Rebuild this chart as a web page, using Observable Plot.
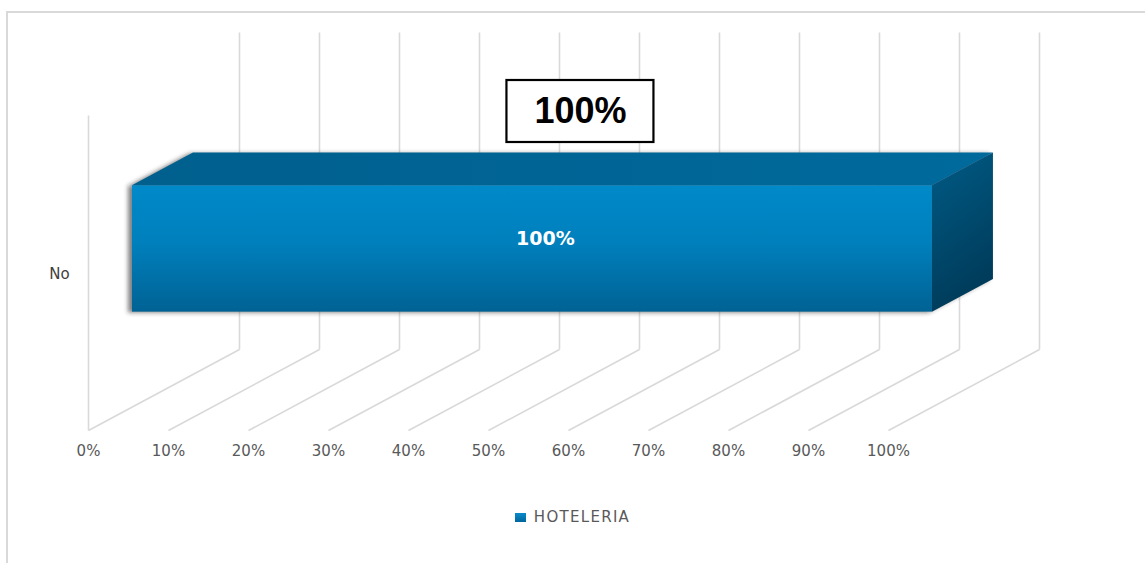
<!DOCTYPE html>
<html>
<head>
<meta charset="utf-8">
<script src="https://cdn.jsdelivr.net/npm/d3@7"></script>
<script src="https://cdn.jsdelivr.net/npm/@observablehq/plot@0.6"></script>
<style>
  html, body { margin: 0; padding: 0; background: #fff; }
  #page { position: relative; width: 1145px; height: 563px; overflow: hidden; }
  #chart { position: absolute; left: 0; top: 0; }
  #frame { position: absolute; left: 6px; top: 11px; width: 1200px; height: 600px;
           border-left: 2px solid #d9d9d9; border-top: 2px solid #d9d9d9; pointer-events: none; }
  #legend { position: absolute; left: 0; top: 508px; width: 1145px; display: flex;
            justify-content: center; align-items: center; font-family: "DejaVu Sans", sans-serif;
            font-size: 15px; letter-spacing: 1.3px; color: #595959; }
  #legend .sw { width: 11px; height: 9px; background: linear-gradient(#0a8bcc, #00669c); margin-right: 8px; }
</style>
</head>
<body>
<div id="page">
  <div id="chart"></div>
  <div id="legend"></div>
  <div id="frame"></div>
</div>
<script>
// ---- data ----
const categories = ["No"];
const seriesNames = ["HOTELERIA"];
const values = [1.0];
const xTicks = [0, 0.1, 0.2, 0.3, 0.4, 0.5, 0.6, 0.7, 0.8, 0.9, 1.0];
const tickLabels = ["0%", "10%", "20%", "30%", "40%", "50%", "60%", "70%", "80%", "90%", "100%"];
const barLabels = ["100%"];
const calloutLabels = ["100%"];

// ---- 3D projection layout (styles) ----
const DX = 0.18875;   // depth shift in x units
const DY = 81;        // depth shift in y units
const WALL = 316;     // wall height
const D0 = 0.291, D1 = 0.695;            // bar front/back depth
const H0 = WALL * 0.3, H1 = WALL * 0.7;  // bar bottom/top on the band

const rows = categories.map((c, i) => ({category: c, series: seriesNames[0], value: values[i], label: barLabels[i], callout: calloutLabels[i]}));

const topPts = rows.flatMap(r => [
  {y: H1 + D0 * DY, x1: D0 * DX, x2: r.value + D0 * DX},
  {y: H1 + D1 * DY, x1: D1 * DX, x2: r.value + D1 * DX}
]);
const rightPts = rows.flatMap(r => [
  {x: r.value + D0 * DX, y1: H0 + D0 * DY, y2: H1 + D0 * DY},
  {x: r.value + D1 * DX, y1: H0 + D1 * DY, y2: H1 + D1 * DY}
]);

const grid = {stroke: "#d9d9d9", strokeWidth: 1.6};

function bar(fills, extra) {
  return [
    Plot.rect(rows, {x1: () => D0 * DX, x2: d => d.value + D0 * DX, y1: () => H0 + D0 * DY, y2: () => H1 + D0 * DY, fill: fills[0], ...extra}),
    Plot.areaX(topPts, {y: "y", x1: "x1", x2: "x2", fill: fills[1], ...extra}),
    Plot.areaY(rightPts, {x: "x", y1: "y1", y2: "y2", fill: fills[2], ...extra})
  ];
}

const chart = Plot.plot({
  width: 1145,
  height: 480,
  marginLeft: 88,
  marginRight: 257,
  marginTop: 0,
  marginBottom: 50,
  style: {background: "transparent", color: "#595959", fontFamily: "DejaVu Sans, sans-serif", fontSize: "15px"},
  x: {domain: [0, 1], ticks: xTicks, tickFormat: d => tickLabels[xTicks.indexOf(d)], tickSize: 0, tickPadding: 15, label: null},
  y: {domain: [0, 430], axis: null},
  marks: [
    // floor diagonals
    Plot.link(xTicks, {x1: d => d, x2: d => d + DX, y1: () => 0, y2: () => DY, ...grid}),
    // back wall verticals
    Plot.link(xTicks, {x1: d => d + DX, x2: d => d + DX, y1: () => DY, y2: () => DY + WALL + 1, ...grid}),
    // side wall front edge
    Plot.link([xTicks[0]], {x1: d => d, x2: d => d, y1: () => 0, y2: () => WALL - 1, ...grid}),
    // shadow
    ...bar(["#333", "#333", "#333"], {fillOpacity: 0.6, dx: -4, dy: 1, title: () => "shadow"}),
    // bar faces
    ...bar(["url(#gFront)", "url(#gTop)", "url(#gRight)"], {}),
    // category label
    Plot.text(rows, {x: () => 0, y: () => WALL / 2, text: "category", dx: -29, dy: 2, fill: "#404040", fontSize: 15, textAnchor: "middle"}),
    // value label on bar
    Plot.text(rows, {x: d => d.value / 2 + D0 * DX, y: () => (H0 + H1) / 2 + D0 * DY, text: "label", dx: 13, dy: -10,
      fill: "white", fontWeight: "bold", fontSize: 19, fontFamily: "DejaVu Sans, sans-serif"}),
    // callout box
    Plot.rect(rows, {x1: d => d.value / 2 + D1 * DX, x2: d => d.value / 2 + D1 * DX, y1: () => WALL, y2: () => WALL,
      insetLeft: -73.5, insetRight: -73.5, insetTop: -31, insetBottom: -31, dx: -13, dy: -3,
      fill: "white", stroke: "black", strokeWidth: 2.2}),
    Plot.text(rows, {x: d => d.value / 2 + D1 * DX, y: () => WALL, text: "callout", dx: -13, dy: -3,
      fill: "black", fontWeight: "bold", fontSize: 36, fontFamily: "Liberation Sans, Arial, sans-serif"})
  ]
});

// gradients
const svg = d3.select(chart.tagName.toLowerCase() === "svg" ? chart : chart.querySelector("svg"));
const defs = svg.insert("defs", ":first-child");
const g1 = defs.append("linearGradient").attr("id", "gFront").attr("x1", 0).attr("y1", 0).attr("x2", 0).attr("y2", 1);
g1.append("stop").attr("offset", "0%").attr("stop-color", "#0089c9");
g1.append("stop").attr("offset", "45%").attr("stop-color", "#0080bd");
g1.append("stop").attr("offset", "100%").attr("stop-color", "#006294");
const g2 = defs.append("linearGradient").attr("id", "gTop").attr("x1", 0).attr("y1", 0).attr("x2", 1).attr("y2", 0);
g2.append("stop").attr("offset", "0%").attr("stop-color", "#005f8d");
g2.append("stop").attr("offset", "100%").attr("stop-color", "#006a9d");
const g3 = defs.append("linearGradient").attr("id", "gRight").attr("x1", 0).attr("y1", 0).attr("x2", 0.3).attr("y2", 1);
g3.append("stop").attr("offset", "0%").attr("stop-color", "#005b86");
g3.append("stop").attr("offset", "100%").attr("stop-color", "#003b5a");
const f = defs.append("filter").attr("id", "blurShadow").attr("x", "-30%").attr("y", "-30%").attr("width", "160%").attr("height", "160%");
f.append("feGaussianBlur").attr("stdDeviation", 2.2);
svg.selectAll("title").each(function() {
  if (this.textContent === "shadow") {
    const el = this.parentNode;
    d3.select(el).attr("filter", "url(#blurShadow)");
    this.remove();
  }
});

document.getElementById("chart").appendChild(chart);

// legend
const legend = d3.select("#legend");
seriesNames.forEach(s => {
  legend.append("div").attr("class", "sw");
  legend.append("span").text(s);
});
</script>
</body>
</html>
